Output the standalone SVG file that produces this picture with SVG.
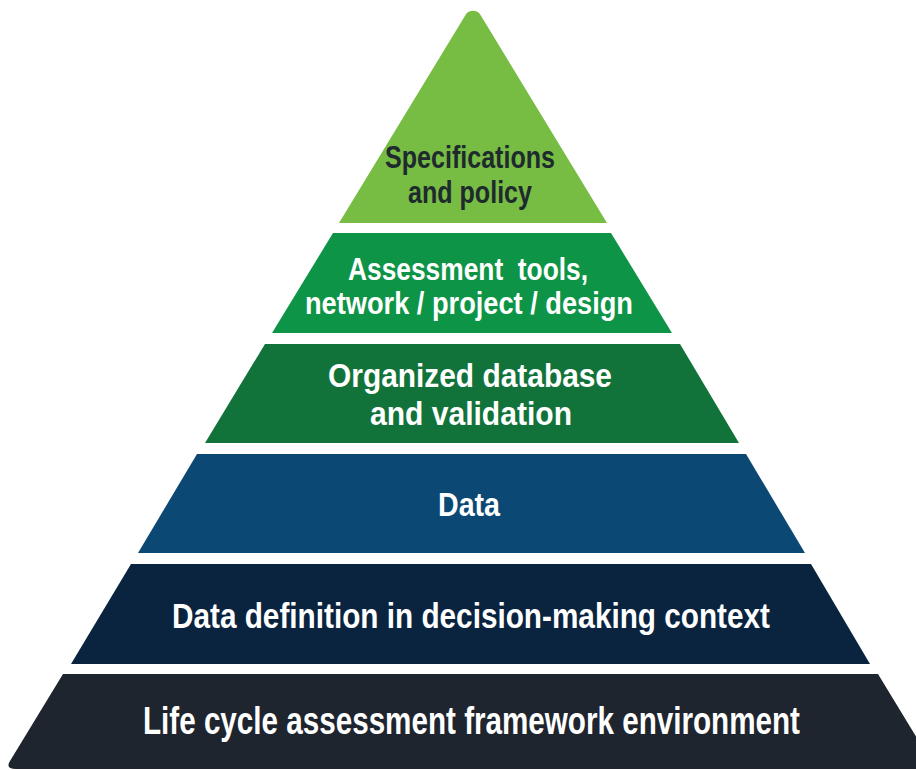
<svg xmlns="http://www.w3.org/2000/svg" width="916" height="770" viewBox="0 0 916 770">
  <style>
    .lbl { font-family: "Liberation Sans", Arial, sans-serif; font-weight: bold; fill: #ffffff; white-space: pre; }
    .dark { fill: #1e2a2e; }
  </style>
  <rect width="916" height="770" fill="#ffffff"/>

  <!-- Pyramid tiers, top to bottom -->
  <g id="tier-specifications">
    <path d="M339,223 L465.5,14.9 A8.8,8.8 0 0 1 480.5,14.9 L607,223 Z" fill="#77bc43"/>
    <text class="lbl dark" x="385" y="168" font-size="32" textLength="170" lengthAdjust="spacingAndGlyphs">Specifications</text>
    <text class="lbl dark" x="408" y="203" font-size="32" textLength="124" lengthAdjust="spacingAndGlyphs">and policy</text>
  </g>

  <g id="tier-assessment-tools">
    <polygon points="333,233 611,233 672,333 272,333" fill="#0e9447"/>
    <text class="lbl" x="348" y="280" font-size="31" textLength="240" lengthAdjust="spacingAndGlyphs">Assessment  tools,</text>
    <text class="lbl" x="305" y="314" font-size="31" textLength="328" lengthAdjust="spacingAndGlyphs">network / project / design</text>
  </g>

  <g id="tier-organized-database">
    <polygon points="265,344 680,344 739,443 205,443" fill="#12733a"/>
    <text class="lbl" x="328" y="387" font-size="34" textLength="284" lengthAdjust="spacingAndGlyphs">Organized database</text>
    <text class="lbl" x="370" y="425" font-size="34" textLength="202" lengthAdjust="spacingAndGlyphs">and validation</text>
  </g>

  <g id="tier-data">
    <polygon points="197,454 746,454 805,553 138,553" fill="#0c4874"/>
    <text class="lbl" x="438" y="516" font-size="34" textLength="62" lengthAdjust="spacingAndGlyphs">Data</text>
  </g>

  <g id="tier-data-definition">
    <polygon points="131,564 811,564 870,664 71,664" fill="#0a2440"/>
    <text class="lbl" x="172" y="628" font-size="35" textLength="598" lengthAdjust="spacingAndGlyphs">Data definition in decision-making context</text>
  </g>

  <g id="tier-lca-framework">
    <!-- base tier runs out past the right edge of the canvas -->
    <path d="M63,674 H878 L916,736.4 V769 H16 Q5,769 10,761 Z" fill="#1f252e"/>
    <!-- tall condensed lettering: smaller size stretched vertically -->
    <text class="lbl" transform="translate(0,734) scale(1,1.25)" x="143" y="0" font-size="30.4" textLength="657" lengthAdjust="spacingAndGlyphs">Life cycle assessment framework environment</text>
  </g>
</svg>
